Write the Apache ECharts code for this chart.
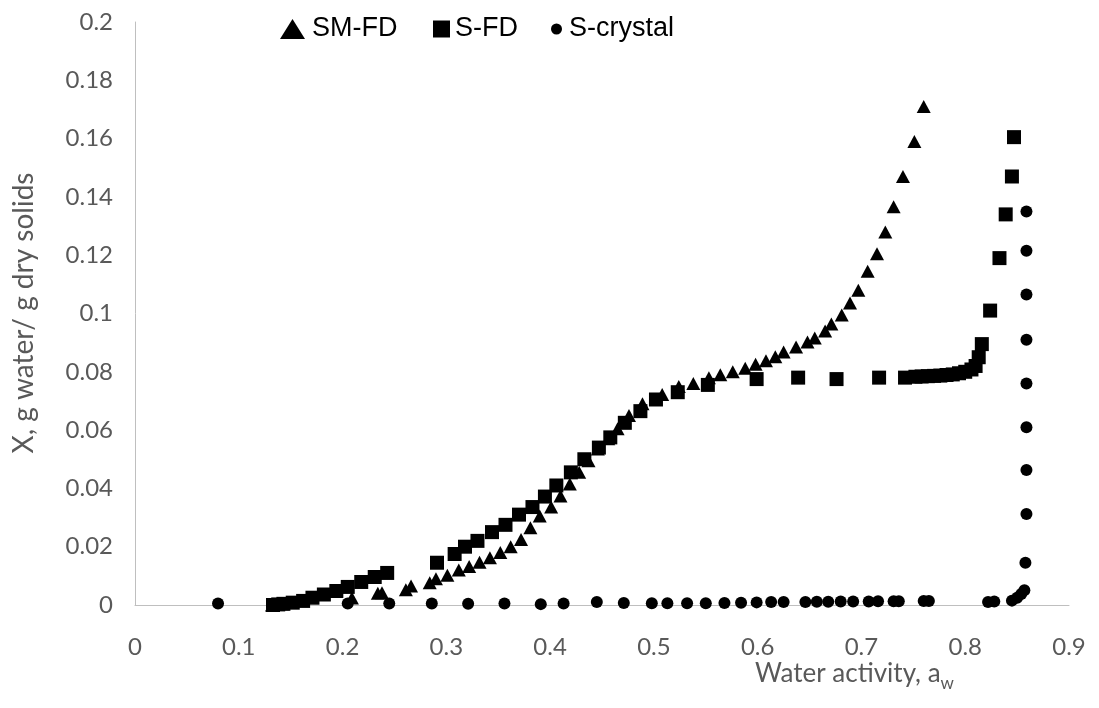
<!DOCTYPE html>
<html>
<head>
<meta charset="utf-8">
<script src="https://cdn.jsdelivr.net/npm/echarts@6/dist/echarts.min.js"></script>
<style>html,body{margin:0;padding:0;background:#fff;}#c{width:1099px;height:708px;}</style>
</head>
<body>
<div id="c"></div>
<script>
// ---- data ----
const seriesNames = ['SM-FD', 'S-FD', 'S-crystal'];

const smfdAw = [0.132,0.137,0.142,0.209,0.234,0.238,0.261,0.266,0.284,0.290,0.301,0.312,0.322,0.332,0.342,0.352,0.362,0.372,0.381,0.390,0.401,0.410,0.419,0.428,0.437,0.446,0.456,0.465,0.476,0.489,0.508,0.524,0.538,0.553,0.564,0.576,0.588,0.598,0.608,0.617,0.625,0.637,0.648,0.655,0.665,0.671,0.681,0.689,0.697,0.706,0.715,0.723,0.731,0.740,0.751,0.760];
const smfdX  = [0.0000,0.0002,0.0004,0.0024,0.0040,0.0042,0.0052,0.0065,0.0076,0.0090,0.0102,0.0120,0.0132,0.0147,0.0162,0.0180,0.0200,0.0225,0.0265,0.0305,0.0336,0.0374,0.0415,0.0455,0.0495,0.0535,0.0570,0.0605,0.0650,0.0690,0.0722,0.0750,0.0760,0.0780,0.0790,0.0800,0.0812,0.0826,0.0838,0.0852,0.0868,0.0885,0.0902,0.0916,0.0940,0.0964,0.0995,0.1036,0.1080,0.1145,0.1205,0.1280,0.1366,0.1470,0.1590,0.1710];

const sfdAw = [0.133,0.138,0.143,0.152,0.162,0.171,0.182,0.194,0.205,0.218,0.231,0.243,0.291,0.308,0.318,0.330,0.344,0.357,0.370,0.383,0.395,0.406,0.420,0.433,0.447,0.458,0.472,0.487,0.502,0.523,0.552,0.599,0.639,0.676,0.717,0.742,0.752,0.758,0.764,0.770,0.776,0.782,0.788,0.794,0.800,0.806,0.810,0.813,0.816,0.824,0.833,0.839,0.845,0.847];
const sfdX  = [0.0000,0.0002,0.0004,0.0008,0.0014,0.0025,0.0036,0.0048,0.0062,0.0079,0.0096,0.0110,0.0145,0.0175,0.0200,0.0220,0.0250,0.0275,0.0310,0.0336,0.0372,0.0410,0.0455,0.0500,0.0540,0.0575,0.0625,0.0665,0.0705,0.0730,0.0755,0.0775,0.0780,0.0775,0.0780,0.0780,0.0783,0.0784,0.0785,0.0786,0.0787,0.0789,0.0791,0.0795,0.0800,0.0808,0.0820,0.0850,0.0895,0.1010,0.1190,0.1340,0.1470,0.1605];

const scAw = [0.080,0.205,0.245,0.286,0.321,0.356,0.391,0.413,0.445,0.471,0.498,0.513,0.532,0.550,0.568,0.584,0.599,0.613,0.625,0.646,0.657,0.668,0.680,0.692,0.707,0.716,0.731,0.736,0.760,0.765,0.822,0.828,0.845,0.850,0.854,0.857,0.858,0.859,0.859,0.859,0.859,0.859,0.859,0.859,0.859];
const scX  = [0.0005,0.0005,0.0005,0.0005,0.0004,0.0005,0.0003,0.0005,0.0010,0.0007,0.0006,0.0006,0.0006,0.0006,0.0007,0.0008,0.0009,0.0010,0.0010,0.0010,0.0011,0.0011,0.0012,0.0012,0.0012,0.0013,0.0013,0.0013,0.0014,0.0014,0.0010,0.0012,0.0015,0.0025,0.0038,0.0051,0.0145,0.0312,0.0463,0.0610,0.0760,0.0910,0.1065,0.1215,0.1350];

const xTicks = [0,0.1,0.2,0.3,0.4,0.5,0.6,0.7,0.8,0.9];
const yTicks = [0,0.02,0.04,0.06,0.08,0.1,0.12,0.14,0.16,0.18,0.2];

const xTitle = 'Water activity, a';
const xTitleSub = 'w';
const yTitle = 'X, g water/ g dry solids';

function zip(a, b) { return a.map((v, i) => [v, b[i]]); }

const chart = echarts.init(document.getElementById('c'), null, {renderer: 'canvas'});
const tickFont = {color: '#595959', fontSize: 24, fontFamily: 'Lato'};
const legendText = {color: '#000', fontSize: 27, fontFamily: 'Liberation Sans', lineHeight: 28};

chart.setOption({
  animation: false,
  backgroundColor: '#fff',
  grid: {left: 135, right: 30, top: 22, bottom: 103, containLabel: false},
  legend: [
    {data: [seriesNames[0]], left: 280, top: 15, padding: 0, itemWidth: 25, itemHeight: 20, textStyle: Object.assign({padding: [0,0,0,2]}, legendText), selectedMode: false},
    {data: [seriesNames[1]], left: 433, top: 15, padding: 0, itemWidth: 17, itemHeight: 17, textStyle: legendText, selectedMode: false},
    {data: [seriesNames[2]], left: 551, top: 15, padding: 0, itemWidth: 11, itemHeight: 11, textStyle: Object.assign({padding: [0,0,0,2]}, legendText), selectedMode: false}
  ],
  xAxis: {
    type: 'value', min: xTicks[0], max: xTicks[xTicks.length - 1], interval: 0.1,
    axisLine: {show: true, lineStyle: {color: '#bfbfbf', width: 1}},
    axisTick: {show: false}, splitLine: {show: false},
    axisLabel: Object.assign({margin: 30, formatter: v => String(+v.toFixed(2))}, tickFont)
  },
  yAxis: {
    type: 'value', min: yTicks[0], max: yTicks[yTicks.length - 1], interval: 0.02,
    axisLine: {show: true, lineStyle: {color: '#bfbfbf', width: 1}},
    axisTick: {show: false}, splitLine: {show: false},
    axisLabel: Object.assign({margin: 22, formatter: v => String(+v.toFixed(2))}, tickFont)
  },
  graphic: [
    {
      type: 'text', left: 755, top: 661, silent: true,
      style: {
        text: '{a|' + xTitle + '}{s|' + xTitleSub + '}',
        rich: {
          a: {fontSize: 26, fontFamily: 'Lato', fill: '#595959', color: '#595959', lineHeight: 36, verticalAlign: 'middle'},
          s: {fontSize: 17, fontFamily: 'Lato', fill: '#595959', color: '#595959', lineHeight: 36, verticalAlign: 'bottom'}
        }
      }
    },
    {
      type: 'text', x: 24, y: 313, rotation: Math.PI / 2, silent: true,
      style: {text: yTitle, fontSize: 28, fontFamily: 'Lato', fill: '#595959', align: 'center', verticalAlign: 'middle'}
    }
  ],
  series: [
    {name: seriesNames[0], type: 'scatter', symbol: 'triangle', symbolSize: [14, 13], itemStyle: {color: '#000', opacity: 1}, data: zip(smfdAw, smfdX)},
    {name: seriesNames[1], type: 'scatter', symbol: 'rect', symbolSize: 14, itemStyle: {color: '#000', opacity: 1}, data: zip(sfdAw, sfdX)},
    {name: seriesNames[2], type: 'scatter', symbol: 'circle', symbolSize: 12, itemStyle: {color: '#000', opacity: 1}, data: zip(scAw, scX)}
  ]
});
</script>
</body>
</html>
